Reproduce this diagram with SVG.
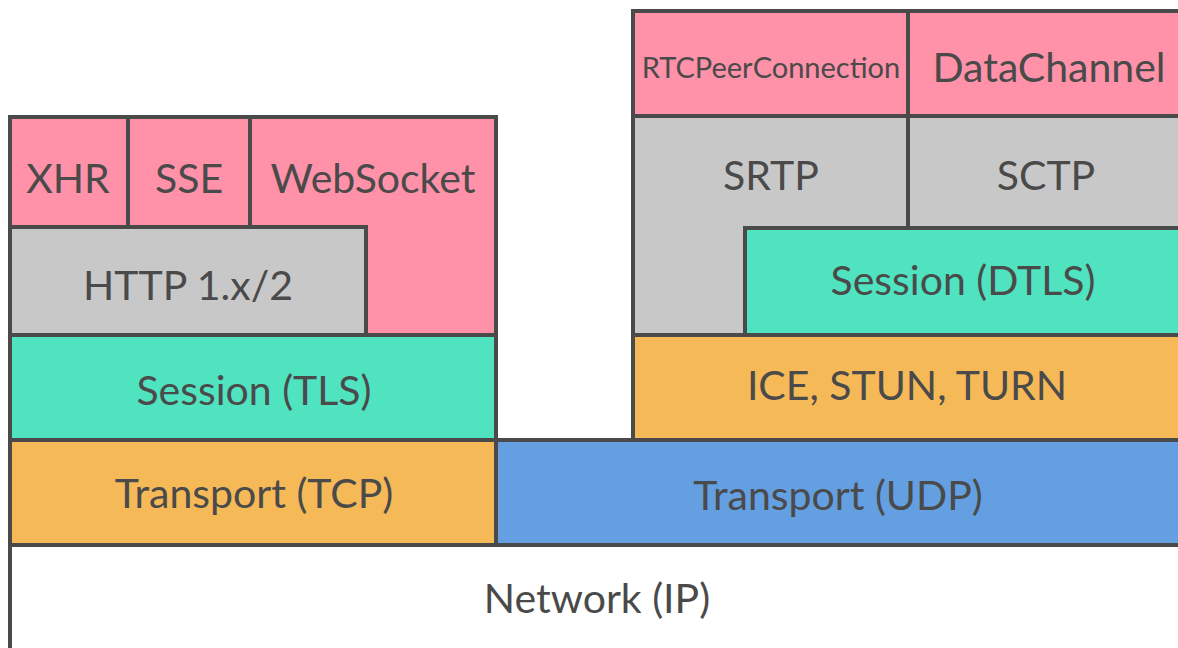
<svg xmlns="http://www.w3.org/2000/svg" width="1178" height="648" viewBox="0 0 1178 648">
<style>
.b{stroke:#4a4a4a;stroke-width:4;stroke-linejoin:miter}
.pink{fill:#FF91A8}.gray{fill:#C8C8C8}.teal{fill:#4FE3C0}.orange{fill:#F5B958}.blue{fill:#639FE1}.white{fill:#FFFFFF}
text{font-family:Lato,"Open Sans",sans-serif;fill:#4a4a4a;text-anchor:middle;font-size:41px}
.s{font-size:29px}
</style>
<rect width="1178" height="648" fill="#fff"/>
<g id="network"><rect class="b white" x="10" y="545" width="1190" height="120"/><text x="597" y="613">Network (IP)</text></g>
<g id="tcp"><rect class="b orange" x="10" y="440" width="486" height="105"/><text x="254" y="508">Transport (TCP)</text></g>
<g id="udp"><rect class="b blue" x="496" y="440" width="700" height="105"/><text x="838" y="510">Transport (UDP)</text></g>
<g id="tls"><rect class="b teal" x="10" y="335" width="486" height="105"/><text x="254" y="405">Session (TLS)</text></g>
<g id="xhr"><rect class="b pink" x="10" y="117" width="118" height="110"/><text x="68" y="193">XHR</text></g>
<g id="sse"><rect class="b pink" x="128" y="117" width="122" height="110"/><text x="189" y="193">SSE</text></g>
<g id="websocket"><polygon class="b pink" points="250,117 496,117 496,335 366,335 366,227 250,227"/><text x="373" y="193">WebSocket</text></g>
<g id="http"><rect class="b gray" x="10" y="227" width="356" height="108"/><text x="188" y="300">HTTP 1.x/2</text></g>
<g id="ice"><rect class="b orange" x="633" y="335" width="560" height="105"/><text x="907" y="400">ICE, STUN, TURN</text></g>
<g id="srtp"><polygon class="b gray" points="633,116 908,116 908,228 745,228 745,335 633,335"/><text x="771" y="190">SRTP</text></g>
<g id="sctp"><rect class="b gray" x="908" y="116" width="290" height="112"/><text x="1046" y="190">SCTP</text></g>
<g id="dtls"><rect class="b teal" x="745" y="228" width="450" height="107"/><text x="963" y="295">Session (DTLS)</text></g>
<g id="rtcpeerconnection"><rect class="b pink" x="633" y="11" width="275" height="105"/><text class="s" x="771" y="78">RTCPeerConnection</text></g>
<g id="datachannel"><rect class="b pink" x="908" y="11" width="290" height="105"/><text x="1049" y="82">DataChannel</text></g>
<g id="connectors"></g>
</svg>
